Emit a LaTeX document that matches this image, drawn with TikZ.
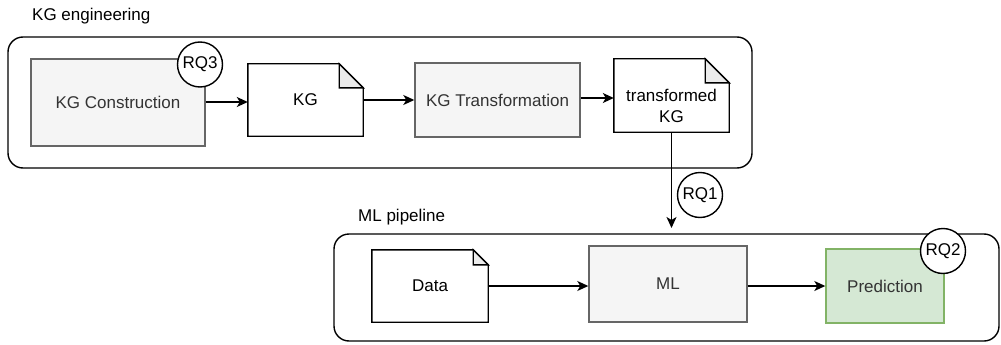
\documentclass[tikz,border=0pt]{standalone}
\usepackage{fontspec}
\setmainfont{Liberation Sans}
\usetikzlibrary{arrows.meta,calc}
\definecolor{boxgray}{HTML}{F5F5F5}
\definecolor{boxstroke}{HTML}{666666}
\definecolor{txtgray}{HTML}{333333}
\definecolor{greenfill}{HTML}{D5E8D4}
\definecolor{greenstroke}{HTML}{82B366}
\definecolor{foldgray}{HTML}{EBEBEB}
\newcommand{\mydoc}[2]{%
  \draw[docline] (#1.north west) -- ([xshift=-#2 pt]#1.north east) -- ([yshift=-#2 pt]#1.north east) -- (#1.south east) -- (#1.south west) -- cycle;
  \draw[docline,fill=foldgray] ([xshift=-#2 pt]#1.north east) -- ([xshift=-#2 pt,yshift=-#2 pt]#1.north east) -- ([yshift=-#2 pt]#1.north east) -- cycle;
}
\begin{document}
\begin{tikzpicture}[x=1pt,y=-1pt,
  every node/.style={font=\fontsize{17}{20.5}\selectfont, inner sep=0pt, align=center},
  container/.style={draw=black, line width=1.4pt, rounded corners=15pt},
  graybox/.style={draw=boxstroke, fill=boxgray, line width=1.4pt, text=txtgray},
  greenbox/.style={draw=greenstroke, fill=greenfill, line width=1.4pt, text=txtgray},
  docbox/.style={draw=none, text=black},
  docline/.style={draw=black, line width=1.4pt, line join=miter},
  rq/.style={circle, draw=black, fill=white, line width=1.4pt, minimum size=45pt},
  conn/.style={draw=black, line width=1.4pt, -{Stealth[length=11pt,width=10pt,inset=3pt]}},
  lbl/.style={anchor=west, text=black}
]
\useasboundingbox (0,0) rectangle (1001,345);
\fill[white] (0,0) rectangle (1001,345);

% containers
\draw[container] (8,37) rectangle (752,168);
\coordinate (topbox) at (380,168);
\node[lbl] (lblkg) at (32,16) {KG engineering};
\draw[container] (334,234) rectangle (999,341);
\coordinate (pipetop) at (666,234);
\node[lbl] (lblml) at (358,217) {ML pipeline};

% top row
\node[graybox, minimum width=174pt, minimum height=87pt] (kgc) at (118,102.5) {KG Construction};
\node[docbox, minimum width=115pt, minimum height=72pt] (kg) at (305.5,100) {};
\mydoc{kg}{24}
\node (kgtxt) at (kg.center) {KG};
\node[graybox, minimum width=165pt, minimum height=74pt] (kgt) at (497.5,100) {KG Transformation};
\node[docbox, minimum width=115pt, minimum height=73pt] (tkg) at (671.5,95.5) {};
\mydoc{tkg}{24}
\node (tkgtxt) at (671.5,106) {transformed\\KG};

% bottom row
\node[docbox, minimum width=116pt, minimum height=72pt] (data) at (430,286) {};
\mydoc{data}{15}
\node (datatxt) at (data.center) {Data};
\node[graybox, minimum width=158pt, minimum height=76pt] (ml) at (668,284) {ML};
\node[greenbox, minimum width=118pt, minimum height=74pt] (pred) at (885,286) {Prediction};

% connectors
\draw[conn] (kgc.east |- 0,102) -- (kg.west |- 0,102);
\draw[conn] (kg.east) -- (kg.east -| kgt.west);
\draw[conn] (kgt.east |- 0,98) -- (tkg.west |- 0,98);
\coordinate (rq1tip) at ($(tkg.south |- pipetop)+(0,-6)$);
\draw[conn] (tkg.south) -- (rq1tip);
\draw[conn] (data.east) -- (data.east -| ml.west);
\draw[conn] (ml.east |- pred.west) -- (pred.west);

% RQ circles
\node[rq] (rq3) at (200,64.5) {RQ3};
\node[rq] (rq1) at (700,195) {RQ1};
\node[rq] (rq2) at (943,251) {RQ2};
\end{tikzpicture}
\end{document}
